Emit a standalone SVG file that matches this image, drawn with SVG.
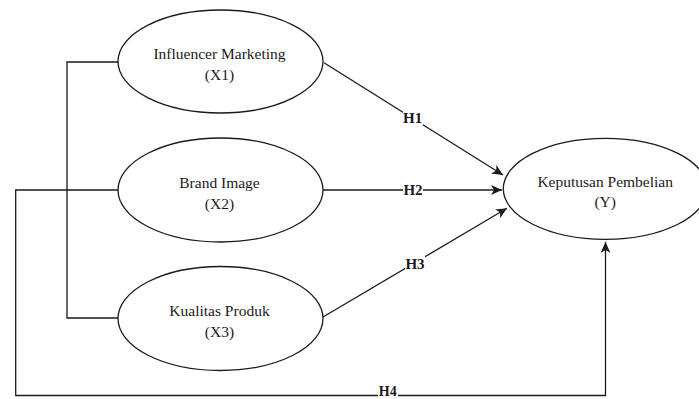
<svg xmlns="http://www.w3.org/2000/svg" width="699" height="399" viewBox="0 0 699 399">
<defs>
<style>
.node ellipse{fill:#fff;stroke:#1a1a1a;stroke-width:1.3}
.node text{font-family:"Liberation Serif","Times New Roman",serif;font-size:15.5px;fill:#1a1a1a;text-anchor:middle}
.edge{fill:none;stroke:#1a1a1a;stroke-width:1.3}
.lbl{font-family:"Liberation Serif","Times New Roman",serif;font-size:15px;font-weight:bold;fill:#1a1a1a;text-anchor:middle}
.lblbg{fill:#fff}
</style>
<marker id="arr" markerUnits="userSpaceOnUse" markerWidth="12" markerHeight="10" refX="11" refY="5" orient="auto">
<path d="M0,0 L11,5 L0,10 L3,5 Z" fill="#1a1a1a"/>
</marker>
</defs>
<rect width="699" height="399" fill="#fff"/>
<g id="connectors">
<path class="edge" d="M118,62 H67 V318 H118"/>
<path class="edge" d="M118,190 H15.7 V395.5 H605.5 V242" marker-end="url(#arr)"/>
<line class="edge" x1="324" y1="62.7" x2="503" y2="175" marker-end="url(#arr)"/>
<line class="edge" x1="323" y1="190" x2="502" y2="190" marker-end="url(#arr)"/>
<line class="edge" x1="323" y1="317" x2="507" y2="208.3" marker-end="url(#arr)"/>
<rect class="lblbg" x="403" y="109" width="20" height="16"/>
<text class="lbl" x="412.7" y="122.5">H1</text>
<rect class="lblbg" x="403" y="182" width="20" height="15"/>
<text class="lbl" x="413" y="194.5">H2</text>
<rect class="lblbg" x="405" y="255" width="20" height="16"/>
<text class="lbl" x="415" y="268.5">H3</text>
<rect class="lblbg" x="378" y="386" width="20" height="13"/>
<text class="lbl" x="387.7" y="396" style="font-size:14px">H4</text>
</g>
<g id="x1" class="node">
<ellipse cx="220.5" cy="61.5" rx="102.5" ry="51.5"/>
<text x="219.5" y="59">Influencer Marketing</text>
<text x="219.5" y="80">(X1)</text>
</g>
<g id="x2" class="node">
<ellipse cx="220.5" cy="190" rx="102.5" ry="52"/>
<text x="219.5" y="187.5">Brand Image</text>
<text x="219.5" y="208.5">(X2)</text>
</g>
<g id="x3" class="node">
<ellipse cx="220.5" cy="318.5" rx="102.5" ry="52"/>
<text x="219.5" y="316">Kualitas Produk</text>
<text x="219.5" y="337">(X3)</text>
</g>
<g id="y" class="node">
<ellipse cx="605.3" cy="188.8" rx="102" ry="50.5"/>
<text x="605.2" y="186.5">Keputusan Pembelian</text>
<text x="605.2" y="206.5">(Y)</text>
</g>
</svg>
